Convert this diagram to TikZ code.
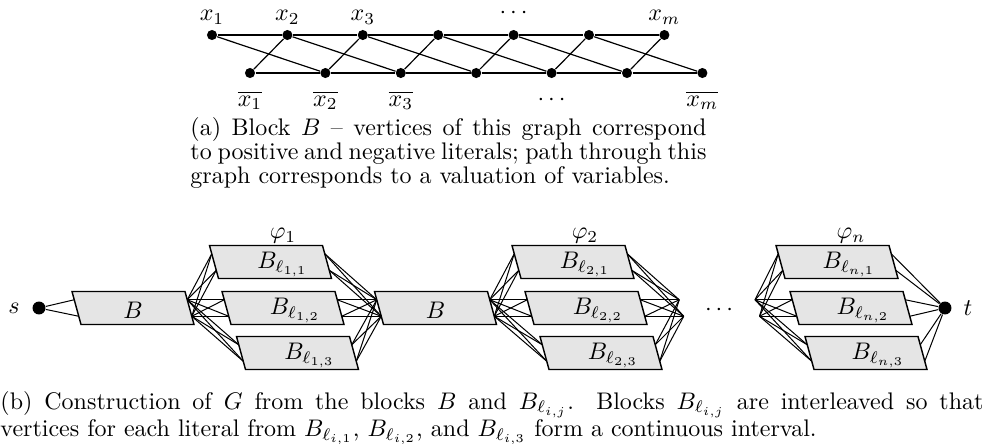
\documentclass[tikz,border=0pt]{standalone}
\usetikzlibrary{positioning,calc}
\begin{document}
\begin{tikzpicture}[x=0.41667pt, y=-0.41667pt,
    vertex/.style={circle, fill=black, inner sep=0pt, minimum size=4.2pt},
    terminal/.style={circle, fill=black, inner sep=0pt, minimum size=5.4pt},
    blockbox/.style={draw, fill=gray!20, line width=0.6pt},
    blocklabel/.style={inner sep=0pt},
    edge/.style={line width=0.5pt},
    link/.style={line width=0.42pt},
    caption/.style={inner sep=0pt, anchor=base west, align=justify,
        font=\fontsize{10pt}{10pt}\selectfont}]
    \path[use as bounding box] (0,0) rectangle (987,443);

    % (a) block B
    \foreach \i in {1,...,7} {
        \node[vertex] (t\i) at ({212+75.4*(\i-1)},35) {};
        \node[vertex] (b\i) at ({250+75.4*(\i-1)},73) {};
    }
    \foreach \i [evaluate=\i as \j using int(\i+1)] in {1,...,6} {
        \draw[edge] (t\i) -- (t\j);
        \draw[edge] (b\i) -- (b\j);
        \draw[edge] (t\i) -- (b\j);
        \draw[edge] (b\i) -- (t\j);
    }
    \node[anchor=base, inner sep=1pt] (lt1) at (212,20.5) {$x_1$};
    \node[anchor=base, inner sep=1pt] (lt2) at (287.4,20.5) {$x_2$};
    \node[anchor=base, inner sep=1pt] (lt3) at (362.8,20.5) {$x_3$};
    \node[anchor=base, inner sep=0pt] (ltd) at (513.6,18) {$\cdots$};
    \node[anchor=base, inner sep=1pt] (ltm) at (664.4,20.5) {$x_m$};
    \node[anchor=base, inner sep=1pt] (lb1) at (250,106) {$\overline{x_1}$};
    \node[anchor=base, inner sep=1pt] (lb2) at (325.4,106) {$\overline{x_2}$};
    \node[anchor=base, inner sep=1pt] (lb3) at (400.8,106) {$\overline{x_3}$};
    \node[anchor=base, inner sep=1pt] (lbd) at (551.6,105) {$\cdots$};
    \node[anchor=base, inner sep=1pt] (lbm) at (702.4,106) {$\overline{x_m}$};
    \node[caption, text width=215pt] (capa) at (190,135)
        {(a) Block $B$ -- vertices of this graph correspond\linebreak
         to positive and negative literals; path through this\linebreak
         graph corresponds to a valuation of variables.};

    % (b) construction of G
    \foreach \n/\cx/\cy/\dx/\txt in {
        B1/133/308/0/{$B$},
        c11/270.5/262/12/{$B_{\ell_{1,1}}$},
        c12/283/308/12/{$B_{\ell_{1,2}}$},
        c13/297.5/353/12/{$B_{\ell_{1,3}}$},
        B2/435.5/308/0/{$B$},
        c21/573/262/12/{$B_{\ell_{2,1}}$},
        c22/586/308/12/{$B_{\ell_{2,2}}$},
        c23/601/353/12/{$B_{\ell_{2,3}}$},
        cn1/837/262/12/{$B_{\ell_{n,1}}$},
        cn2/851/308/12/{$B_{\ell_{n,2}}$},
        cn3/866/353/12/{$B_{\ell_{n,3}}$}} {
        \draw[blockbox] (\cx-61,\cy-16.5) -- (\cx+52,\cy-16.5) -- (\cx+61,\cy+16.5) -- (\cx-52,\cy+16.5) -- cycle;
        \coordinate (\n-iu) at (\cx-58.75,\cy-8.25);
        \coordinate (\n-il) at (\cx-54.25,\cy+8.25);
        \coordinate (\n-ou) at (\cx+54.25,\cy-8.25);
        \coordinate (\n-ol) at (\cx+58.75,\cy+8.25);
        \node[blocklabel] (\n-lbl) at (\cx+\dx,\cy+2.5) {\txt};
    }
    \coordinate (e2-iu) at (679.25,299.75);
    \coordinate (e2-il) at (683.75,316.25);
    \coordinate (fn-ou) at (755,299.75);
    \coordinate (fn-ol) at (759.5,316.25);

    \node[blocklabel] (phi1) at (283,236) {$\varphi_1$};
    \node[blocklabel] (phi2) at (585,236) {$\varphi_2$};
    \node[blocklabel] (phin) at (851,236) {$\varphi_n$};
    \node[blocklabel] (dots) at (719,310) {$\cdots$};

    \node[terminal] (s) at (39,308) {};
    \node[terminal] (t) at (945,308) {};
    \node[blocklabel] (ls) at (14,308) {$s$};
    \node[blocklabel] (lt) at (968,308) {$t$};

    \draw[link] (s) -- (B1-iu);
    \draw[link] (s) -- (B1-il);
    \foreach \a/\b in {B1/c11, B1/c12, B1/c13, c11/B2, c12/B2, c13/B2,
                       B2/c21, B2/c22, B2/c23, c21/e2, c22/e2, c23/e2,
                       fn/cn1, fn/cn2, fn/cn3}
        \foreach \p in {u,l}
            \foreach \q in {u,l}
                \draw[link] (\a-o\p) -- (\b-i\q);
    \foreach \c in {cn1, cn2, cn3}
        \foreach \p in {u,l}
            \draw[link] (\c-o\p) -- (t);

    \node[caption, text width=409.6pt] (capb) at (0,409)
        {(b) Construction of $G$ from the blocks $B$ and $B_{\ell_{i,j}}$. Blocks $B_{\ell_{i,j}}$ are interleaved so that\linebreak
         vertices for each literal from $B_{\ell_{i,1}}$, $B_{\ell_{i,2}}$, and $B_{\ell_{i,3}}$ form a continuous interval.};
\end{tikzpicture}
\end{document}
